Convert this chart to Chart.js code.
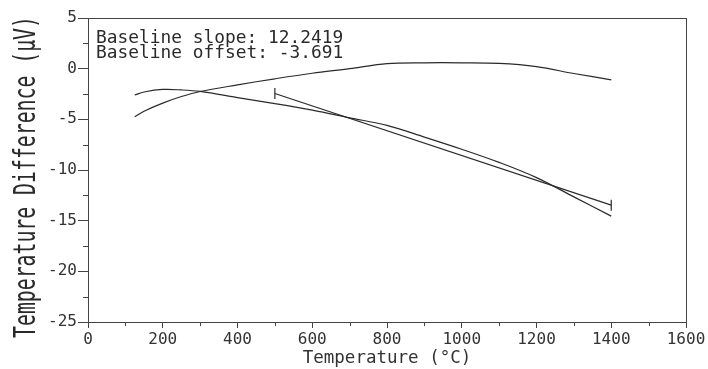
<!DOCTYPE html>
<html>
<head>
<meta charset="utf-8">
<script src="https://cdn.jsdelivr.net/npm/chart.js@4.4.1/dist/chart.umd.min.js"></script>
<style>
  html, body { margin: 0; padding: 0; background: #ffffff; }
  #wrap { width: 708px; height: 369px; }
</style>
</head>
<body>
<div id="wrap"><canvas id="c" width="708" height="369"></canvas></div>
<script>
// ---- data ----
const temperatures = [125, 150, 200, 250, 300, 400, 500, 600, 700, 800, 900, 1000, 1100, 1200, 1300, 1400];
const correctedDiff = [-4.75, -4.2, -3.4, -2.75, -2.25, -1.6, -1.0, -0.45, 0.0, 0.5, 0.58, 0.58, 0.52, 0.2, -0.48, -1.1];
const measuredDiff = [-2.6, -2.3, -2.05, -2.1, -2.25, -2.85, -3.45, -4.1, -4.85, -5.6, -6.75, -7.95, -9.25, -10.75, -12.65, -14.55];
const baselineTemps = [500, 1400];
const baselineValues = [-2.45, -13.47];
const xTickLabels = ['0', '200', '400', '600', '800', '1000', '1200', '1400', '1600'];
const yTickLabels = ['-25', '-20', '-15', '-10', '-5', '0', '5'];
const annotationLines = ['Baseline slope: 12.2419', 'Baseline offset: -3.691'];
const xTitle = 'Temperature (°C)';
const yTitle = 'Temperature Difference (μV)';

const MONO = '"DejaVu Sans Mono", "Liberation Mono", monospace';
const INK = '#2a2a2a';

function pts(xs, ys) { return xs.map((x, i) => ({ x: x, y: ys[i] })); }

const framePlugin = {
  id: 'frame',
  afterDraw(chart) {
    const ctx = chart.ctx;
    const a = chart.chartArea;
    const xs = chart.scales.x, ys = chart.scales.y;
    ctx.save();
    ctx.strokeStyle = '#444';
    ctx.lineWidth = 1;
    ctx.strokeRect(Math.round(a.left) + 0.5, Math.round(a.top) + 0.5, Math.round(a.right - a.left), Math.round(a.bottom - a.top));
    // minor ticks
    ctx.beginPath();
    for (let v = ys.min + 2.5; v < ys.max; v += 5) {
      const py = Math.round(ys.getPixelForValue(v)) + 0.5;
      ctx.moveTo(a.left - 5, py); ctx.lineTo(a.left, py);
    }
    for (let v = xs.min + 100; v < xs.max; v += 200) {
      const px = Math.round(xs.getPixelForValue(v)) + 0.5;
      ctx.moveTo(px, a.bottom); ctx.lineTo(px, a.bottom + 4);
    }
    ctx.stroke();
    // annotation text
    ctx.fillStyle = INK;
    ctx.font = '17px ' + MONO;
    ctx.textAlign = 'left';
    ctx.textBaseline = 'alphabetic';
    annotationLines.forEach((t, i) => {
      ctx.save();
      ctx.translate(a.left + 8, a.top + 24.5 + i * 15);
      ctx.scale(1.05, 1);
      ctx.fillText(t, 0, 0);
      ctx.restore();
    });
    // y title (tall, narrow lettering)
    ctx.save();
    ctx.translate(35, (a.top + a.bottom) / 2 + 7);
    ctx.rotate(-Math.PI / 2);
    ctx.scale(0.66, 1);
    ctx.font = '30px ' + MONO;
    ctx.textAlign = 'center';
    ctx.fillText(yTitle, 0, 0);
    ctx.restore();
    ctx.restore();
  }
};

new Chart(document.getElementById('c'), {
  type: 'line',
  data: {
    datasets: [
      {
        label: 'Corrected',
        data: pts(temperatures, correctedDiff),
        borderColor: INK, borderWidth: 1.2, pointRadius: 0, tension: 0.35, fill: false
      },
      {
        label: 'Measured',
        data: pts(temperatures, measuredDiff),
        borderColor: INK, borderWidth: 1.2, pointRadius: 0, tension: 0.35, fill: false
      },
      {
        label: 'Baseline',
        data: pts(baselineTemps, baselineValues),
        borderColor: INK, borderWidth: 1.2, tension: 0, fill: false,
        pointStyle: 'line', rotation: 90, pointRadius: 5.5, pointBorderColor: INK, pointBorderWidth: 1.2
      }
    ]
  },
  options: {
    responsive: false,
    animation: false,
    events: [],
    layout: { padding: { top: 18, right: 22, left: 0, bottom: 0 } },
    plugins: { legend: { display: false }, tooltip: { enabled: false } },
    scales: {
      x: {
        type: 'linear', min: 0, max: 1600,
        afterFit(s) { s.height = 47; },
        border: { display: true, color: '#444', width: 1 },
        grid: { display: true, drawOnChartArea: false, tickLength: 6, color: '#444' },
        ticks: {
          stepSize: 200, padding: 2, color: '#333', maxRotation: 0,
          font: { family: MONO, size: 16 },
          callback(v) { const i = Math.round(v / 200); return xTickLabels[i] !== undefined ? xTickLabels[i] : ''; }
        },
        title: { display: true, text: xTitle, color: '#333', font: { family: MONO, size: 17.5 }, padding: { top: 0, bottom: 0 } }
      },
      y: {
        type: 'linear', min: -25, max: 5,
        afterFit(s) { s.width = 88; },
        border: { display: true, color: '#444', width: 1 },
        grid: { display: true, drawOnChartArea: false, tickLength: 10, color: '#444' },
        ticks: {
          stepSize: 5, padding: 1, color: '#333',
          font: { family: MONO, size: 16 },
          callback(v) { const i = Math.round((v + 25) / 5); return yTickLabels[i] !== undefined ? yTickLabels[i] : ''; }
        },
        title: { display: false }
      }
    }
  },
  plugins: [framePlugin]
});
</script>
</body>
</html>
